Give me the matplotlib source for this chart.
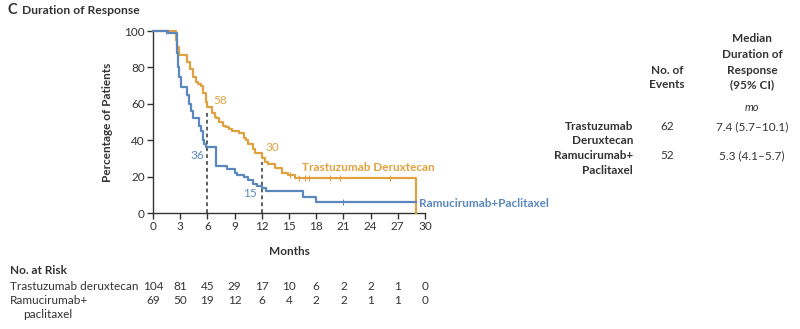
import matplotlib
matplotlib.use("Agg")
import matplotlib.pyplot as plt

plt.rcParams['font.family'] = ['Lato', 'DejaVu Sans']

ORANGE = '#E0A240'
BLUE = '#5B87BD'
DARK = '#333333'

# Kaplan-Meier steps
tdx_t = [0, 2.5, 2.7, 2.9, 3.8, 4.1, 4.4, 4.7, 5.0, 5.3, 5.5, 5.8, 6.0, 6.5, 6.8, 7.0, 7.3,
         7.7, 8.0, 8.4, 8.7, 9.5, 10.0, 10.3, 10.5, 11.0, 11.3, 12.0, 12.4, 12.7,
         13.5, 14.2, 14.9, 15.7, 29.0]
tdx_s = [100, 95, 91, 87, 83, 79, 75, 72, 71, 70, 66, 61, 58, 55, 53, 52, 50,
         48, 47, 46, 45, 44, 41, 40, 38, 35, 33, 30, 28, 27,
         25, 22, 21, 19, 0]
tdx_cens_t = [15.1, 16.1, 16.8, 17.2, 19.5, 20.6, 26.1]
tdx_cens_s = [21, 19, 19, 19, 19, 19, 19]

ram_t = [0, 1.7, 2.6, 2.7, 2.8, 2.9, 3.1, 3.7, 4.0, 4.2, 4.4, 5.1, 5.3, 5.5, 5.6, 5.8,
         7.0, 8.2, 9.0, 9.3, 10.0, 10.5, 11.0, 11.5, 12.0, 12.5, 16.5, 18.0, 29.0]
ram_s = [100, 99, 95, 88, 80, 75, 69, 65, 60, 56, 52, 48, 45, 40, 38, 36,
         26, 24, 22, 21, 20, 18, 16, 15, 14, 12, 9, 6, 6]
ram_cens_t = [1.45, 21.0]
ram_cens_s = [100, 6]

months = [0, 3, 6, 9, 12, 15, 18, 21, 24, 27, 30]
risk_tdx = [104, 81, 45, 29, 17, 10, 6, 2, 2, 1, 0]
risk_ram = [69, 50, 19, 12, 6, 4, 2, 2, 1, 1, 0]

W, H = 800, 329
FS = 8.5
fig = plt.figure(figsize=(W / 100, H / 100), dpi=100)


def fy(py):
    return 1 - py / H


ax = fig.add_axes([153 / W, fy(213), (425 - 153) / W, (213 - 31) / H])
ax.step(tdx_t, tdx_s, where='post', color=ORANGE, lw=1.6, clip_on=False, zorder=3)
ax.step(ram_t, ram_s, where='post', color=BLUE, lw=1.6, clip_on=False, zorder=3)
ax.plot(tdx_cens_t, tdx_cens_s, ls='none', marker='|', ms=4, color=ORANGE, mew=0.8)
ax.plot(ram_cens_t, ram_cens_s, ls='none', marker='|', ms=4, color=BLUE, mew=0.8)

# medians at 6 and 12 months
ax.plot([6, 6], [0, 56], ls=(0, (2.5, 2)), color=DARK, lw=1.1)
ax.plot([12, 12], [0, 28], ls=(0, (2.5, 2)), color=DARK, lw=1.1)
ax.text(6.6, 62, '58', color=ORANGE, fontsize=FS, va='center')
ax.text(5.6, 31.5, '36', color=BLUE, fontsize=FS, va='center', ha='right')
ax.text(12.4, 36, '30', color=ORANGE, fontsize=FS, va='center')
ax.text(11.4, 10.5, '15', color=BLUE, fontsize=FS, va='center', ha='right')

ax.text(16.4, 25, 'Trastuzumab Deruxtecan', color=ORANGE, fontsize=FS,
        fontweight='bold', va='center')
ax.text(29.3, 5, 'Ramucirumab+Paclitaxel', color=BLUE, fontsize=FS,
        fontweight='bold', va='center', clip_on=False)

ax.set_xlim(0, 30)
ax.set_ylim(0, 100)
ax.set_xticks(months)
ax.set_yticks([0, 20, 40, 60, 80, 100])
for s in ['top', 'right']:
    ax.spines[s].set_visible(False)
for s in ['left', 'bottom']:
    ax.spines[s].set_color(DARK)
    ax.spines[s].set_linewidth(1)
ax.tick_params(direction='out', length=4, width=1, color=DARK, labelcolor=DARK,
               labelsize=FS, pad=2)
ax.set_xlabel('Months', fontsize=FS, fontweight='bold', color=DARK, labelpad=10)
ax.set_ylabel('Percentage of Patients', fontsize=FS, fontweight='bold', color=DARK,
              labelpad=8)

fig.text(7 / W, fy(10), 'C', fontsize=10.5, fontweight='bold', color=DARK, va='center')
fig.text(22 / W, fy(10), 'Duration of Response', fontsize=8.7, fontweight='bold',
         color=DARK, va='center')

# number at risk
fig.text(10 / W, fy(271), 'No. at Risk', fontsize=FS, fontweight='bold', color=DARK,
         va='center')
fig.text(10 / W, fy(286), 'Trastuzumab deruxtecan', fontsize=FS, color=DARK, va='center')
fig.text(10 / W, fy(300), 'Ramucirumab+', fontsize=FS, color=DARK, va='center')
fig.text(23 / W, fy(314), 'paclitaxel', fontsize=FS, color=DARK, va='center')
x0, x1 = ax.get_position().x0, ax.get_position().x1
for m, a, b in zip(months, risk_tdx, risk_ram):
    xf = x0 + (x1 - x0) * m / 30
    fig.text(xf, fy(286), str(a), fontsize=FS, color=DARK, va='center', ha='center')
    fig.text(xf, fy(300), str(b), fontsize=FS, color=DARK, va='center', ha='center')

# side table
for txt, py in [('Median', 38), ('Duration of', 54), ('Response', 70), ('(95% CI)', 85)]:
    fig.text(752 / W, fy(py), txt, fontsize=FS, fontweight='bold', color=DARK,
             ha='center', va='center')
for txt, py in [('No. of', 70), ('Events', 85)]:
    fig.text(667 / W, fy(py), txt, fontsize=FS, fontweight='bold', color=DARK,
             ha='center', va='center')
fig.text(752 / W, fy(107), 'mo', fontsize=8, style='italic', color=DARK,
         ha='center', va='center')

rows = [('Trastuzumab', 'Deruxtecan', '62', '7.4 (5.7\u201310.1)', 127),
        ('Ramucirumab+', 'Paclitaxel', '52', '5.3 (4.1\u20135.7)', 156)]
for l1, l2, ev, med, py in rows:
    fig.text(633 / W, fy(py), l1, fontsize=FS, fontweight='bold', color=DARK,
             ha='right', va='center')
    fig.text(633 / W, fy(py + 14), l2, fontsize=FS, fontweight='bold', color=DARK,
             ha='right', va='center')
    fig.text(667 / W, fy(py), ev, fontsize=FS, color=DARK, ha='center', va='center')
    fig.text(752 / W, fy(py), med, fontsize=FS, color=DARK, ha='center', va='center')

fig.savefig('out.png', dpi=100)
